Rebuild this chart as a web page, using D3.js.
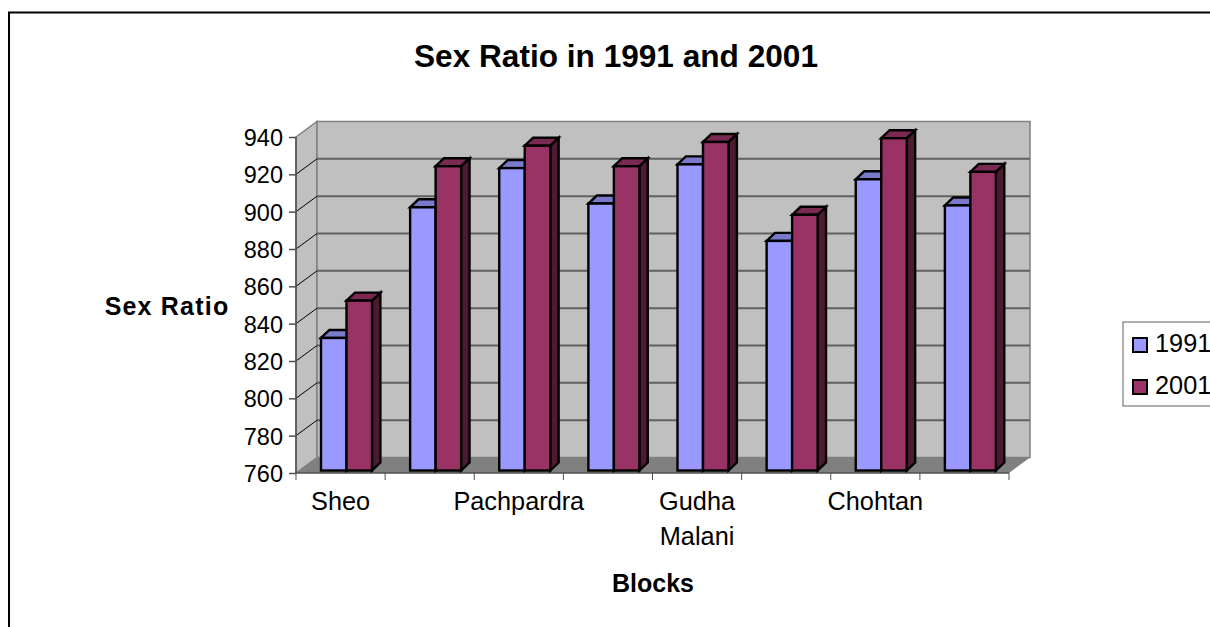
<!DOCTYPE html>
<html><head><meta charset="utf-8">
<script src="https://cdn.jsdelivr.net/npm/d3@7/dist/d3.min.js"></script>
<style>html,body{margin:0;padding:0;background:#fff;overflow:hidden}text{font-family:"Liberation Sans",Arial,sans-serif;fill:#000}</style>
</head><body><svg id="c" width="1210" height="627"></svg>
<script>
const categories = ["Sheo","","Pachpardra","","Gudha Malani","","Chohtan",""];
const seriesNames = ["1991","2001"];
const values1991 = [831,901,922,903,924,883,916,902];
const values2001 = [851,923,934,923,936,897,938,920];
const tickValues = [760,780,800,820,840,860,880,900,920,940];
const titleText = "Sex Ratio in 1991 and 2001";
const xTitle = "Blocks", yTitle = "Sex Ratio";
const fills = {"1991":["#9999ff","#7a7acc","#4d4d80"],"2001":["#993366","#7a2952","#4d1a33"]};

const svg = d3.select("#c");
const W = 1210, H = 627;
const L = 296, R = 1009, T = 137, B = 473, DX = 21, DY = -15.5;
const x = d3.scaleBand().domain(d3.range(categories.length)).range([L,R]).paddingInner(0).paddingOuter(0);
const y = d3.scaleLinear().domain([760,940]).range([B,T]);
const poly = p => p.map(q=>q.join(",")).join(" ");

// frame
svg.append("rect").attr("x",9).attr("y",12.5).attr("width",W+20).attr("height",H+20).attr("fill","#fff").attr("stroke","#000").attr("stroke-width",2);

// walls and floor
svg.append("polygon").attr("points",poly([[L,T],[L+DX,T+DY],[L+DX,B+DY],[L,B]])).attr("fill","#c0c0c0").attr("stroke","#808080").attr("stroke-width",1.5);
svg.append("polygon").attr("points",poly([[L+DX,T+DY],[R+DX,T+DY],[R+DX,B+DY],[L+DX,B+DY]])).attr("fill","#c0c0c0").attr("stroke","#808080").attr("stroke-width",1.5);
svg.append("polygon").attr("points",poly([[L,B],[L+DX,B+DY],[R+DX,B+DY],[R,B]])).attr("fill","#808080");

// gridlines
tickValues.slice(1,-1).forEach(v=>{
  svg.append("line").attr("x1",L+DX).attr("x2",R+DX).attr("y1",y(v)+DY).attr("y2",y(v)+DY).attr("stroke","#606060").attr("stroke-width",2);
  svg.append("line").attr("x1",L).attr("x2",L+DX).attr("y1",y(v)).attr("y2",y(v)+DY).attr("stroke","#000").attr("stroke-width",1);
});

// axes
const gy = svg.append("g").attr("transform",`translate(${L},0)`).call(d3.axisLeft(y).tickValues(tickValues).tickSize(7).tickPadding(6).tickFormat(d3.format("d")));
gy.selectAll("text").style("font-size","23.5px").attr("dy","0.36em");
gy.selectAll("line,path").attr("stroke","#505050").attr("stroke-width",1.5);
gy.select("path").attr("d",`M0,${T}V${B}`);
const gx = svg.append("g").attr("transform",`translate(0,${B})`);
gx.append("line").attr("x1",L).attr("x2",R).attr("stroke","#505050").attr("stroke-width",1.5);
d3.range(categories.length+1).forEach(i=>{
  const px = L + i*x.bandwidth();
  gx.append("line").attr("x1",px).attr("x2",px).attr("y1",0).attr("y2",7).attr("stroke","#505050").attr("stroke-width",1);
});

// bars
const bw = 25.5, off = 25, base = y(760)-2.5, d = 8.4;
categories.forEach((c,i)=>{
  [["1991",values1991[i],0],["2001",values2001[i],1]].forEach(([s,v,k])=>{
    const x0 = x(i)+off+k*bw, x1 = x0+bw, yt = y(v)-2.5, col = fills[s];
    const g = svg.append("g").attr("stroke","#000").attr("stroke-width",2.4).attr("stroke-linejoin","miter");
    g.append("polygon").attr("points",poly([[x1,yt],[x1+d,yt-8],[x1+d,base-8],[x1,base]])).attr("fill",col[2]);
    g.append("polygon").attr("points",poly([[x0,yt],[x0+d,yt-8],[x1+d,yt-8],[x1,yt]])).attr("fill",col[1]);
    g.append("rect").attr("x",x0).attr("y",yt).attr("width",bw).attr("height",base-yt).attr("fill",col[0]);
  });
});

// category labels
categories.forEach((c,i)=>{
  if(!c) return;
  c.split(" ").forEach((p,j)=>{
    svg.append("text").attr("x",x(i)+x.bandwidth()/2).attr("y",510+j*35).attr("text-anchor","middle").style("font-size","25.3px").text(p);
  });
});

// titles
svg.append("text").attr("x",616).attr("y",67).attr("text-anchor","middle").style("font-size","31.6px").style("font-weight","bold").text(titleText);
svg.append("text").attr("x",167).attr("y",315).attr("text-anchor","middle").style("font-size","25px").style("letter-spacing","1.2px").style("font-weight","bold").text(yTitle);
svg.append("text").attr("x",653).attr("y",592).attr("text-anchor","middle").style("font-size","25px").style("font-weight","bold").text(xTitle);

// legend
svg.append("rect").attr("x",1123).attr("y",322).attr("width",120).attr("height",84).attr("fill","#fff").attr("stroke","#606060").attr("stroke-width",1);
seriesNames.forEach((s,i)=>{
  const yy = 338+i*42;
  svg.append("rect").attr("x",1133).attr("y",yy).attr("width",14).attr("height",14).attr("fill",fills[s][0]).attr("stroke","#000").attr("stroke-width",2);
  svg.append("text").attr("x",1155).attr("y",yy+14).style("font-size","25.3px").text(s);
});
</script></body></html>
